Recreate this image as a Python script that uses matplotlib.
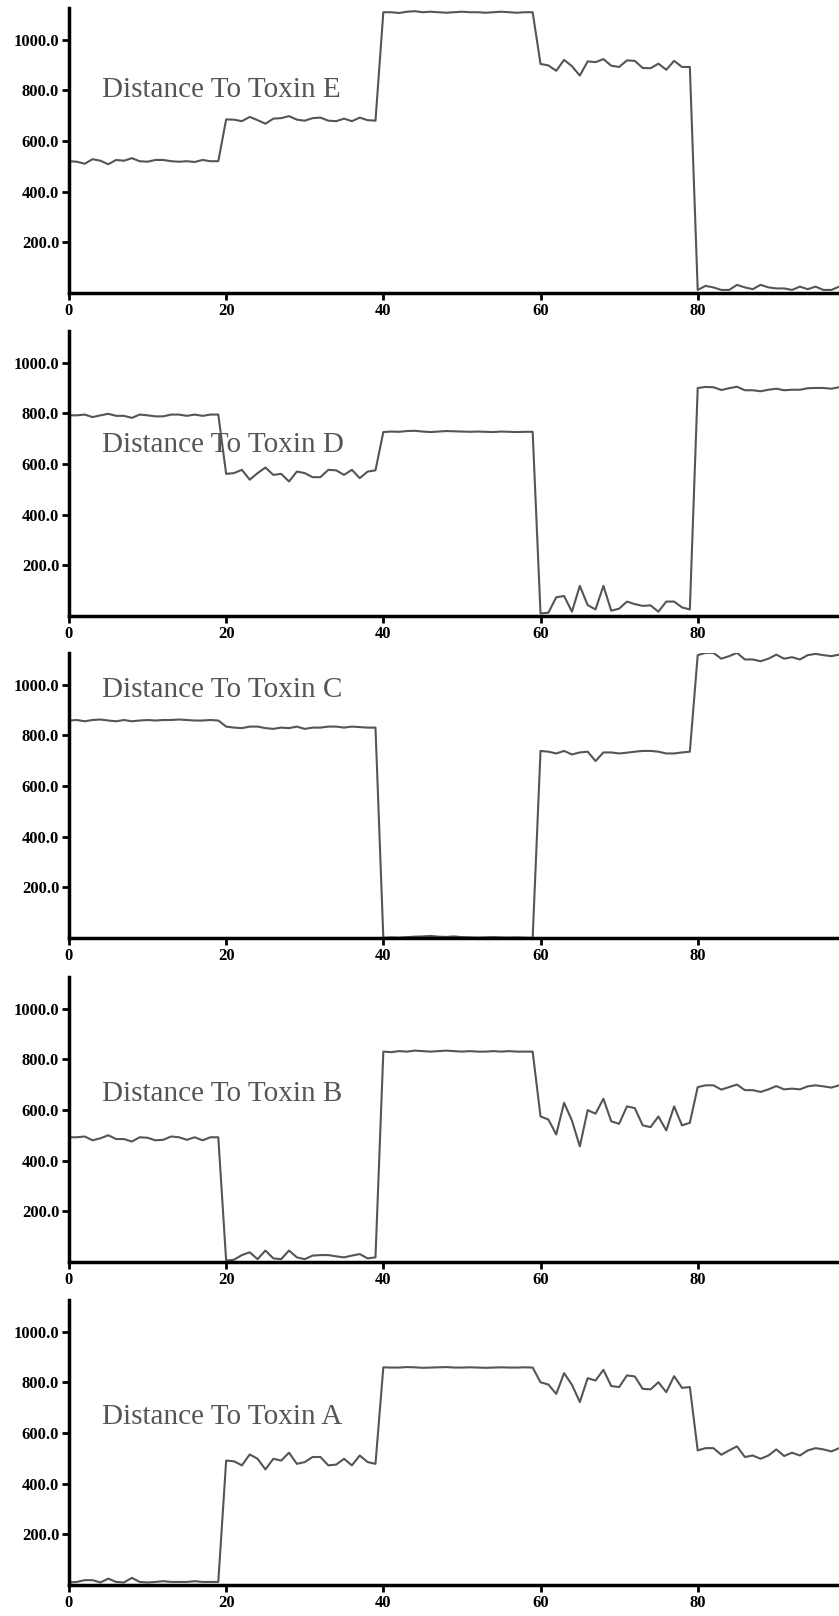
import matplotlib.pyplot as plt
import numpy as np
from matplotlib.ticker import FormatStrFormatter

# distance readings, one value per time step 0..98
toxin_e = [520, 518, 510, 528, 522, 508, 525, 522, 532, 520, 518, 525, 525, 520, 518, 520, 517, 525, 520, 520,
           685, 684, 678, 695, 682, 668, 688, 690, 698, 684, 680, 690, 692, 680, 678, 688, 678, 692, 682, 680,
           1108, 1108, 1105, 1110, 1112, 1108, 1110, 1108, 1106, 1108, 1110, 1108, 1108, 1106, 1108, 1110, 1108, 1106, 1108, 1108,
           904, 898, 877, 920, 895, 858, 914, 911, 923, 897, 892, 918, 916, 888, 887, 905, 881, 916, 892, 892,
           12, 28, 22, 12, 12, 32, 22, 15, 32, 22, 18, 18, 12, 25, 15, 25, 12, 12, 25]
toxin_d = [792, 792, 795, 785, 792, 798, 790, 790, 782, 795, 792, 788, 788, 795, 795, 790, 795, 790, 795, 795,
           561, 564, 577, 538, 564, 586, 557, 561, 531, 570, 564, 548, 548, 577, 575, 557, 577, 544, 570, 575,
           726, 728, 727, 730, 731, 728, 726, 728, 730, 729, 728, 727, 728, 727, 726, 728, 727, 726, 727, 727,
           10, 13, 74, 79, 17, 119, 43, 26, 119, 21, 29, 57, 47, 40, 42, 17, 57, 57, 34, 26,
           900, 904, 903, 892, 899, 905, 891, 891, 887, 893, 897, 891, 893, 893, 899, 900, 900, 897, 903]
toxin_c = [858, 860, 855, 860, 862, 858, 855, 860, 855, 858, 860, 858, 860, 860, 862, 860, 858, 858, 860, 858,
           834, 830, 828, 834, 834, 828, 825, 830, 828, 834, 825, 830, 830, 834, 834, 830, 834, 832, 830, 830,
           0, 2, 1, 3, 5, 6, 8, 5, 4, 6, 3, 2, 1, 2, 3, 2, 1, 2, 1, 0,
           738, 735, 728, 738, 724, 732, 735, 698, 732, 732, 728, 731, 735, 738, 738, 735, 728, 728, 732, 735,
           1116, 1125, 1125, 1102, 1112, 1125, 1099, 1099, 1092, 1102, 1118, 1102, 1108, 1099, 1116, 1121, 1116, 1112, 1118]
toxin_b = [492, 492, 495, 480, 488, 500, 485, 485, 475, 492, 490, 480, 482, 495, 492, 482, 492, 480, 492, 492,
           5, 9, 27, 38, 11, 45, 14, 11, 45, 18, 11, 25, 27, 27, 22, 18, 25, 31, 14, 18,
           830, 828, 832, 830, 834, 832, 830, 832, 834, 832, 830, 832, 830, 830, 832, 830, 832, 830, 830, 830,
           574, 562, 503, 628, 558, 456, 599, 585, 644, 555, 545, 614, 607, 539, 532, 574, 519, 614, 539, 549,
           690, 697, 697, 680, 690, 700, 678, 678, 671, 681, 694, 681, 684, 681, 693, 697, 693, 688, 697]
toxin_a = [10, 12, 19, 19, 10, 25, 12, 10, 28, 12, 10, 12, 15, 12, 12, 12, 15, 12, 12, 12,
           491, 488, 472, 515, 498, 456, 498, 491, 522, 478, 485, 505, 505, 472, 475, 498, 472, 511, 485, 478,
           859, 858, 858, 860, 859, 857, 858, 859, 860, 858, 858, 859, 858, 857, 858, 859, 858, 858, 859, 858,
           800, 791, 754, 836, 790, 722, 816, 807, 849, 785, 781, 827, 823, 774, 772, 800, 761, 824, 778, 781,
           531, 540, 540, 514, 531, 547, 505, 511, 498, 511, 535, 509, 522, 511, 531, 540, 535, 527, 540]

series = [toxin_e, toxin_d, toxin_c, toxin_b, toxin_a]
labels = ["Distance To Toxin E", "Distance To Toxin D", "Distance To Toxin C",
          "Distance To Toxin B", "Distance To Toxin A"]
label_y = [775, 646, 949, 637, 636]
steps = np.arange(len(toxin_e))

fig = plt.figure(figsize=(8.39, 16.16), dpi=100)
bottoms = [0.8187, 0.6188, 0.4196, 0.2191, 0.0192]
h = 0.1764

for vals, lab, ly, b in zip(series, labels, label_y, bottoms):
    ax = fig.add_axes([0.0822, b, 0.918, h])
    ax.plot(steps, vals, color='#555555', lw=1.5)
    ax.set_xlim(0, 98)
    ax.set_ylim(0, 1125)
    ax.set_xticks([0, 20, 40, 60, 80])
    ax.set_yticks([200, 400, 600, 800, 1000])
    ax.yaxis.set_major_formatter(FormatStrFormatter('%.1f'))
    for s in ['top', 'right']:
        ax.spines[s].set_visible(False)
    for s in ['left', 'bottom']:
        ax.spines[s].set_linewidth(2.5)
    ax.tick_params(direction='out', length=5, width=2, pad=2)
    for t in ax.get_xticklabels() + ax.get_yticklabels():
        t.set_fontfamily('Liberation Serif')
        t.set_fontweight('bold')
        t.set_fontsize(12)
    ax.text(4.2, ly, lab, fontsize=21, family='Liberation Serif', color='#555555', va='baseline')

fig.savefig('out.png', dpi=100)
